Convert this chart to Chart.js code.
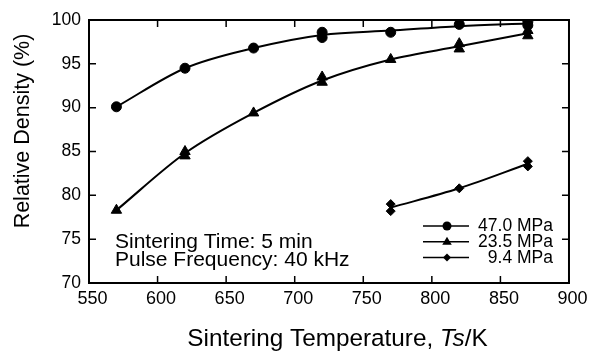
<!DOCTYPE html>
<html><head><meta charset="utf-8">
<script src="https://cdn.jsdelivr.net/npm/chart.js@4.4.1/dist/chart.umd.min.js"></script>
<style>html,body{margin:0;padding:0;background:#fff}#wrap{width:589px;height:352px}</style>
</head><body><div id="wrap"><canvas id="c" width="589" height="352"></canvas></div>
<script>
// ---- data ----
const xTickValues = [550, 600, 650, 700, 750, 800, 850, 900];
const yTickValues = [70, 75, 80, 85, 90, 95, 100];

const seriesNames = ['47.0 MPa', '23.5 MPa', '9.4 MPa'];

const temps47   = [570, 620, 670, 720, 720, 770, 820, 870, 870];
const density47 = [90.1, 94.5, 96.8, 98.6, 98.0, 98.6, 99.5, 99.8, 99.4];

const temps23   = [570, 620, 620, 670, 720, 720, 770, 820, 820, 870, 870];
const density23 = [78.3, 85.0, 84.5, 89.4, 93.5, 92.9, 95.5, 97.3, 96.7, 98.8, 98.2];

const temps9    = [770, 770, 820, 870, 870];
const density9  = [79.0, 78.2, 80.8, 83.9, 83.3];

// fitted curves
const fitTemps47 = [570, 620, 670, 720, 770, 820, 870];
const fit47      = [90.1, 94.5, 96.8, 98.3, 98.8, 99.3, 99.6];
const fitTemps23 = [570, 620, 670, 720, 770, 820, 870];
const fit23      = [78.3, 84.8, 89.4, 93.1, 95.5, 97.0, 98.5];
const fitTemps9  = [770, 820, 870];
const fit9       = [78.6, 80.8, 83.6];

const annotationLines = ['Sintering Time: 5 min', 'Pulse Frequency: 40 kHz'];
const xTitleParts = [['Sintering Temperature, ', false], ['Ts', true], ['/K', false]];
const yTitle = 'Relative Density (%)';

// ---- build ----
const FONT = "'Liberation Sans', Arial, Helvetica, sans-serif";
const pts = (xs, ys) => xs.map((x, i) => ({x: x, y: ys[i]}));
const markerStyles = ['circle', 'triangle', 'rectRot'];
const markerRadius = [5, 6, 4.5];

function fitDs(xs, ys) {
  return {type: 'line', data: pts(xs, ys), borderColor: '#000', borderWidth: 2,
    pointRadius: 0, fill: false, cubicInterpolationMode: 'monotone', order: 2};
}
function markDs(xs, ys, i) {
  return {type: 'scatter', data: pts(xs, ys), pointStyle: markerStyles[i],
    pointRadius: markerRadius[i], backgroundColor: '#000', borderColor: '#000',
    borderWidth: 1, showLine: false, order: 1};
}

function drawMarker(ctx, style, r, x, y) {
  ctx.beginPath();
  if (style === 'circle') { ctx.arc(x, y, r, 0, Math.PI * 2); }
  else if (style === 'triangle') {
    ctx.moveTo(x, y - r); ctx.lineTo(x + r * 0.95, y + r * 0.6); ctx.lineTo(x - r * 0.95, y + r * 0.6); ctx.closePath();
  } else {
    ctx.moveTo(x, y - r); ctx.lineTo(x + r, y); ctx.lineTo(x, y + r); ctx.lineTo(x - r, y); ctx.closePath();
  }
  ctx.fill();
}

const framePlugin = {
  id: 'frame',
  afterDatasetsDraw(chart) {
    const ctx = chart.ctx, a = chart.chartArea;
    const xs = chart.scales.x, ys = chart.scales.y;
    ctx.save();
    ctx.strokeStyle = '#000';
    ctx.lineWidth = 2;
    ctx.strokeRect(a.left, a.top, a.right - a.left, a.bottom - a.top);
    ctx.lineWidth = 1.5;
    const tl = 7;
    ctx.beginPath();
    xTickValues.forEach(v => {
      const px = xs.getPixelForValue(v);
      ctx.moveTo(px, a.bottom); ctx.lineTo(px, a.bottom - tl);
      ctx.moveTo(px, a.top); ctx.lineTo(px, a.top + tl);
    });
    yTickValues.forEach(v => {
      const py = ys.getPixelForValue(v);
      ctx.moveTo(a.left, py); ctx.lineTo(a.left + tl, py);
      ctx.moveTo(a.right, py); ctx.lineTo(a.right - tl, py);
    });
    ctx.stroke();

    // annotation
    ctx.fillStyle = '#000';
    ctx.font = '21px ' + FONT;
    ctx.textAlign = 'left'; ctx.textBaseline = 'alphabetic';
    annotationLines.forEach((t, i) => ctx.fillText(t, 115, 247.5 + i * 18.5));

    // legend
    ctx.font = '17.5px ' + FONT;
    ctx.textAlign = 'right';
    seriesNames.forEach((name, i) => {
      const base = 231 + i * 15.8;
      const ly = base - 5;
      ctx.lineWidth = 1.5;
      ctx.beginPath(); ctx.moveTo(423, ly); ctx.lineTo(469, ly); ctx.stroke();
      drawMarker(ctx, markerStyles[i], [4.5, 5, 4][i], 447, ly);
      ctx.fillText(name, 553, base);
    });

    // axis titles
    ctx.textAlign = 'left';
    const xf = '24.3px ' + FONT;
    let total = 0;
    xTitleParts.forEach(p => { ctx.font = (p[1] ? 'italic ' : '') + xf; total += ctx.measureText(p[0]).width; });
    let x0 = 337.5 - total / 2;
    xTitleParts.forEach(p => {
      ctx.font = (p[1] ? 'italic ' : '') + xf;
      ctx.fillText(p[0], x0, 346);
      x0 += ctx.measureText(p[0]).width;
    });
    ctx.save();
    ctx.translate(28.5, 131);
    ctx.rotate(-Math.PI / 2);
    ctx.font = '21.5px ' + FONT;
    ctx.textAlign = 'center';
    ctx.fillText(yTitle, 0, 0);
    ctx.restore();
    ctx.restore();
  }
};

new Chart(document.getElementById('c'), {
  data: {
    datasets: [
      markDs(temps47, density47, 0), markDs(temps23, density23, 1), markDs(temps9, density9, 2),
      fitDs(fitTemps47, fit47), fitDs(fitTemps23, fit23), fitDs(fitTemps9, fit9)
    ]
  },
  options: {
    responsive: false, animation: false, devicePixelRatio: 1,
    layout: {padding: {top: 20, right: 20, left: 0, bottom: 0}},
    plugins: {legend: {display: false}, tooltip: {enabled: false}},
    scales: {
      x: {type: 'linear', min: 550, max: 900,
        afterBuildTicks: s => { s.ticks = xTickValues.map(v => ({value: v})); },
        afterFit: s => { s.height = 69; },
        grid: {display: false, drawTicks: false}, border: {display: false},
        ticks: {padding: 5, labelOffset: 3.5, color: '#000', font: {family: FONT, size: 18}}},
      y: {type: 'linear', min: 70, max: 100,
        afterBuildTicks: s => { s.ticks = yTickValues.map(v => ({value: v})); },
        afterFit: s => { s.width = 89; },
        grid: {display: false, drawTicks: false}, border: {display: false},
        ticks: {padding: 8, color: '#000', font: {family: FONT, size: 17.5}}}
    }
  },
  plugins: [framePlugin]
});
</script></body></html>
